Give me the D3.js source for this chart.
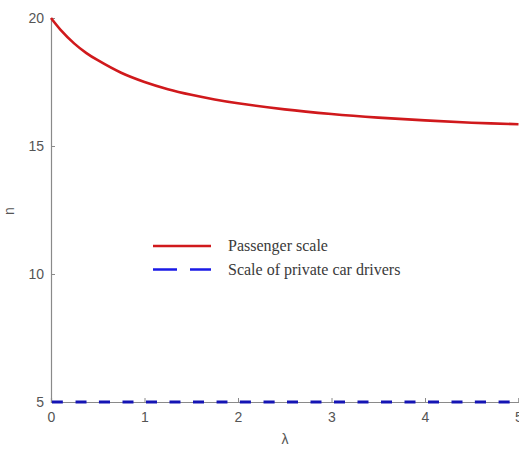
<!DOCTYPE html>
<html>
<head>
<meta charset="utf-8">
<script src="https://cdn.jsdelivr.net/npm/d3@7"></script>
<style>
  html, body { margin: 0; padding: 0; background: #fff; }
  svg { display: block; }
</style>
</head>
<body>
<svg id="chart" width="519" height="449"></svg>
<script>
// λ sample points and the two series
const lambda = [0, 0.1, 0.25, 0.375, 0.5, 0.75, 1.0, 1.25, 1.5, 1.75, 2.0, 2.5, 3.0, 3.5, 4.0, 4.5, 5.0];
const passengerScale = [20.0, 19.55, 19.0, 18.64, 18.35, 17.86, 17.5, 17.22, 17.0, 16.82, 16.67, 16.43, 16.25, 16.11, 16.0, 15.91, 15.85];
const driverScale = [5, 5, 5, 5, 5, 5, 5, 5, 5, 5, 5, 5, 5, 5, 5, 5, 5];
const xTicks = [0, 1, 2, 3, 4, 5];
const yTicks = [5, 10, 15, 20];
const seriesNames = ["Passenger scale", "Scale of private car drivers"];

const svg = d3.select("#chart");
const x = d3.scaleLinear().domain([0, 5]).range([51, 518.5]);
const y = d3.scaleLinear().domain([5, 20]).range([402, 18]);

const axisColor = "#8a8a8a";
const labelColor = "#555";
const sans = "'Liberation Sans', Arial, sans-serif";

// y axis (ticks point into the plot)
const gy = svg.append("g").attr("transform", `translate(${x(0)},0)`)
  .call(d3.axisLeft(y).tickValues(yTicks).tickSize(-4).tickPadding(7).tickFormat(d3.format("d")));
gy.select(".domain").attr("stroke", axisColor).attr("stroke-width", 1.2);
gy.selectAll(".tick line").attr("stroke", axisColor);
gy.selectAll(".tick text").attr("fill", labelColor)
  .style("font-family", sans).style("font-size", "14px");

// x axis
const gx = svg.append("g").attr("transform", `translate(0,${y(5)})`)
  .call(d3.axisBottom(x).tickValues(xTicks).tickSize(-4).tickPadding(10).tickFormat(d3.format("d")));
gx.select(".domain").attr("stroke", axisColor).attr("stroke-width", 1.2);
gx.selectAll(".tick line").attr("stroke", axisColor);
gx.selectAll(".tick text").attr("fill", labelColor)
  .style("font-family", sans).style("font-size", "14px");

// axis titles
svg.append("text").attr("x", 14).attr("y", 211)
  .attr("transform", "rotate(-90,14,211)").attr("text-anchor", "middle")
  .attr("fill", labelColor).style("font-family", sans).style("font-size", "14px")
  .text("n");
svg.append("text").attr("x", 285).attr("y", 444).attr("text-anchor", "middle")
  .attr("fill", labelColor).style("font-family", sans).style("font-size", "14px")
  .text("λ");

// series lines
const line = d3.line().x((d, i) => x(lambda[i])).y(d => y(d)).curve(d3.curveCatmullRom);

svg.append("path").datum(driverScale).attr("d", line)
  .attr("fill", "none").attr("stroke", "#1414b4").attr("stroke-width", 3)
  .attr("stroke-dasharray", "11,12.5").attr("stroke-dashoffset", -1);

svg.append("path").datum(passengerScale).attr("d", line)
  .attr("fill", "none").attr("stroke", "#d0191c").attr("stroke-width", 2.6);

// legend
const legend = svg.append("g").attr("transform", "translate(153,246)");
const legendStyles = [
  { stroke: "#d0191c", dash: null },
  { stroke: "#1a1ae6", dash: "24,13" }
];
seriesNames.forEach((name, i) => {
  const row = legend.append("g").attr("transform", `translate(0,${i * 23.5})`);
  row.append("line").attr("x1", 0).attr("x2", 58).attr("y1", 0).attr("y2", 0)
    .attr("stroke", legendStyles[i].stroke).attr("stroke-width", 2.6)
    .attr("stroke-dasharray", legendStyles[i].dash);
  row.append("text").attr("x", 75).attr("y", 5)
    .attr("fill", "#3a3a3a").style("font-family", "'Liberation Serif', 'Times New Roman', serif")
    .style("font-size", "16px").text(name);
});
</script>
</body>
</html>
